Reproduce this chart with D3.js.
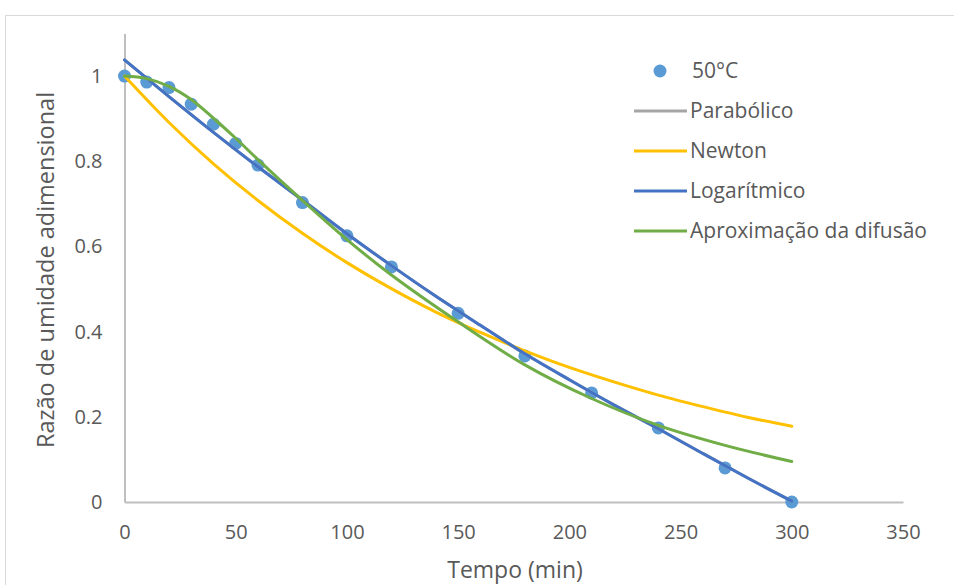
<!DOCTYPE html>
<html>
<head>
<meta charset="utf-8">
<script src="https://cdn.jsdelivr.net/npm/d3@7"></script>
<style>
  body { margin: 0; background: #fff; }
  text { font-family: "Open Sans", "Liberation Sans", sans-serif; fill: #595959; }
</style>
</head>
<body>
<div id="chart"></div>
<script>
// measured points, 50 °C
let tempoObs = [0, 10, 20, 30, 40, 50, 60, 80, 100, 120, 150, 180, 210, 240, 270, 300];
let mrObs = [1, 0.986, 0.973, 0.934, 0.887, 0.842, 0.791, 0.703, 0.625, 0.552, 0.443, 0.343, 0.256, 0.174, 0.08, 0];

// fitted models
let tempoFit = [0, 20, 40, 60, 80, 100, 120, 140, 160, 180, 200, 220, 240, 260, 280, 300];
let parabolicoY = [1.038, 0.952, 0.868, 0.787, 0.709, 0.630, 0.555, 0.483, 0.415, 0.348, 0.287, 0.228, 0.172, 0.114, 0.057, 0.002];
let newtonY = [1, 0.891, 0.794, 0.708, 0.631, 0.562, 0.501, 0.446, 0.398, 0.355, 0.316, 0.282, 0.251, 0.224, 0.199, 0.178];
let logaritmicoY = [1.038, 0.952, 0.868, 0.787, 0.709, 0.630, 0.555, 0.483, 0.415, 0.348, 0.287, 0.228, 0.172, 0.114, 0.057, 0.002];

let tempoDif = [0, 10, 20, 30, 40, 50, 60, 80, 100, 120, 150, 180, 210, 240, 270, 300];
let difusaoY = [1, 0.994, 0.976, 0.945, 0.901, 0.854, 0.804, 0.708, 0.616, 0.533, 0.423, 0.322, 0.243, 0.180, 0.133, 0.095];

let xTicks = [0, 50, 100, 150, 200, 250, 300, 350];
let yTicks = [0, 0.2, 0.4, 0.6, 0.8, 1];

let legendNames = ["50°C", "Parabólico", "Newton", "Logarítmico", "Aproximação da difusão"];
let colors = ["#5B9BD5", "#A5A5A5", "#FFC000", "#4472C4", "#70AD47"];

let width = 954, height = 585;

let svg = d3.select("#chart").append("svg")
  .attr("width", width)
  .attr("height", height);

//chart border
svg.append("rect")
  .attr("x", 5.5).attr("y", 15.5)
  .attr("width", 1000).attr("height", 1000)
  .attr("fill", "none")
  .attr("stroke", "#D9D9D9")
  .attr("stroke-width", 1);

let x = d3.scaleLinear().domain([0, 350]).range([124.5, 903]);
let y = d3.scaleLinear().domain([0, 1.1]).range([502, 33.5]);

//axes
let xAxis = svg.append("g")
  .attr("transform", "translate(0," + y(0) + ")")
  .call(d3.axisBottom(x).tickValues(xTicks).tickSize(0).tickPadding(23).tickFormat(d3.format("d")));
let yAxis = svg.append("g")
  .attr("transform", "translate(" + x(0) + ",0)")
  .call(d3.axisLeft(y).tickValues(yTicks).tickSize(0).tickPadding(22).tickFormat(d => d === 0 || d === 1 ? d : d.toFixed(1)));

[xAxis, yAxis].forEach(function (g) {
  g.select(".domain").attr("stroke", "#BFBFBF").attr("stroke-width", 2);
  g.selectAll("text").style("font-size", "20px").attr("fill", "#595959");
});

//axis titles
svg.append("text")
  .attr("x", 515).attr("y", 578)
  .attr("text-anchor", "middle")
  .style("font-size", "23px")
  .text("Tempo (min)");
svg.append("text")
  .attr("transform", "translate(54,270) rotate(-90)")
  .attr("text-anchor", "middle")
  .style("font-size", "23.5px")
  .text("Razão de umidade adimensional");

//observed points
svg.append("g")
  .selectAll("circle")
  .data(tempoObs)
  .enter().append("circle")
  .attr("cx", d => x(d))
  .attr("cy", (d, i) => y(mrObs[i]))
  .attr("r", 6.5)
  .attr("fill", colors[0]);

//model lines
let line = d3.line()
  .x(d => x(d[0]))
  .y(d => y(d[1]))
  .curve(d3.curveCatmullRom.alpha(0.5));

let series = [
  [tempoFit, parabolicoY, colors[1]],
  [tempoFit, newtonY, colors[2]],
  [tempoFit, logaritmicoY, colors[3]],
  [tempoDif, difusaoY, colors[4]]
];

series.forEach(function (s) {
  svg.append("path")
    .datum(s[0].map((t, i) => [t, s[1][i]]))
    .attr("d", line)
    .attr("fill", "none")
    .attr("stroke", s[2])
    .attr("stroke-width", 3)
    .attr("stroke-linecap", "round");
});

//legend
let legend = svg.append("g");
legendNames.forEach(function (name, i) {
  let ly = 71 + i * 40;
  if (i === 0) {
    legend.append("circle")
      .attr("cx", 660).attr("cy", ly).attr("r", 6.5)
      .attr("fill", colors[0]);
  } else {
    legend.append("line")
      .attr("x1", 634).attr("x2", 687)
      .attr("y1", ly).attr("y2", ly)
      .attr("stroke", colors[i])
      .attr("stroke-width", 3);
  }
  legend.append("text")
    .attr("x", i === 0 ? 692 : 690)
    .attr("y", ly)
    .attr("dy", "0.35em")
    .style("font-size", "21px")
    .text(name);
});
</script>
</body>
</html>
